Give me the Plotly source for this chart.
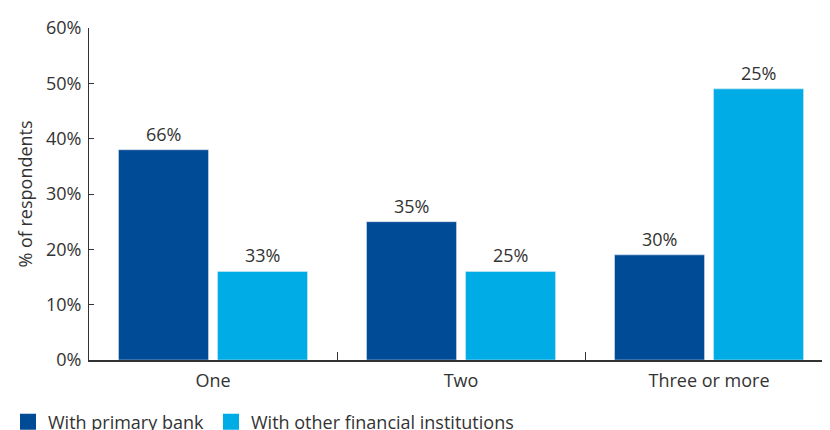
import plotly.graph_objects as go

categories = ["One", "Two", "Three or more"]
primary_heights = [38, 25, 19]
other_heights = [16, 16, 49]
primary_labels = ["66%", "35%", "30%"]
other_labels = ["33%", "25%", "25%"]
series_names = ["With primary bank", "With other financial institutions"]
y_ticks = [0, 10, 20, 30, 40, 50, 60]
y_tick_labels = ["0%", "10%", "20%", "30%", "40%", "50%", "60%"]

DARK = "#004B96"
LIGHT = "#00ACE6"
TXT = "#333333"
FONT = "Open Sans"
FS = 18

fig = go.Figure()
fig.add_trace(go.Bar(x=categories, y=primary_heights, name=series_names[0],
                     marker_color=DARK, text=primary_labels, textposition="none",
                     showlegend=False))
fig.add_trace(go.Bar(x=categories, y=other_heights, name=series_names[1],
                     marker_color=LIGHT, text=other_labels, textposition="none",
                     showlegend=False))
# legend entries (16px square swatches, as in the reference)
fig.add_trace(go.Scatter(x=[None], y=[None], mode="markers", name=series_names[0],
                         marker=dict(symbol="square", size=16, color=DARK),
                         legend="legend", hoverinfo="skip"))
fig.add_trace(go.Scatter(x=[None], y=[None], mode="markers", name=series_names[1],
                         marker=dict(symbol="square", size=16, color=LIGHT),
                         legend="legend2", hoverinfo="skip"))

for cat, h, lab in zip(categories, primary_heights, primary_labels):
    fig.add_annotation(x=cat, y=h, text=lab, showarrow=False, xshift=-49.5,
                       yanchor="bottom", yshift=2, font=dict(size=FS, color=TXT, family=FONT))
for cat, h, lab in zip(categories, other_heights, other_labels):
    fig.add_annotation(x=cat, y=h, text=lab, showarrow=False, xshift=49.5,
                       yanchor="bottom", yshift=2, font=dict(size=FS, color=TXT, family=FONT))

leg_common = dict(orientation="h", yref="container",
                  xanchor="left", yanchor="middle", itemsizing="trace",
                  font=dict(size=FS, color=TXT, family=FONT), bgcolor="rgba(0,0,0,0)")

fig.update_layout(
    width=830, height=430,
    margin=dict(l=81, r=0, t=20, b=78),
    paper_bgcolor="white", plot_bgcolor="white",
    barmode="group", bargap=0.2016, bargroupgap=0.0909,
    font=dict(family=FONT, size=FS, color=TXT),
    showlegend=True,
    legend=dict(xref="paper", x=-91 / 749, y=(430 - 414) / 430, **leg_common),
    legend2=dict(xref="container", x=203 / 830, y=(430 - 414) / 430, **leg_common),
)
fig.update_xaxes(
    type="category", range=[-0.5, 2.52], automargin=False,
    showline=True, linecolor=TXT, linewidth=1.5,
    ticks="inside", tickson="boundaries", ticklen=8, tickcolor=TXT, tickwidth=1,
    ticklabelstandoff=4,
    showgrid=False, tickfont=dict(size=FS, color=TXT, family=FONT),
)
fig.update_yaxes(
    range=[0, 60], tickvals=y_ticks, ticktext=y_tick_labels, automargin=False,
    showline=True, linecolor=TXT, linewidth=1,
    ticks="inside", ticklen=5, tickcolor=TXT, tickwidth=1,
    ticklabelstandoff=3,
    showgrid=False, zeroline=False,
    tickfont=dict(size=FS, color=TXT, family=FONT),
    title=dict(text="% of respondents", font=dict(size=FS, color=TXT, family=FONT), standoff=8),
)

fig.write_html("out.html")
